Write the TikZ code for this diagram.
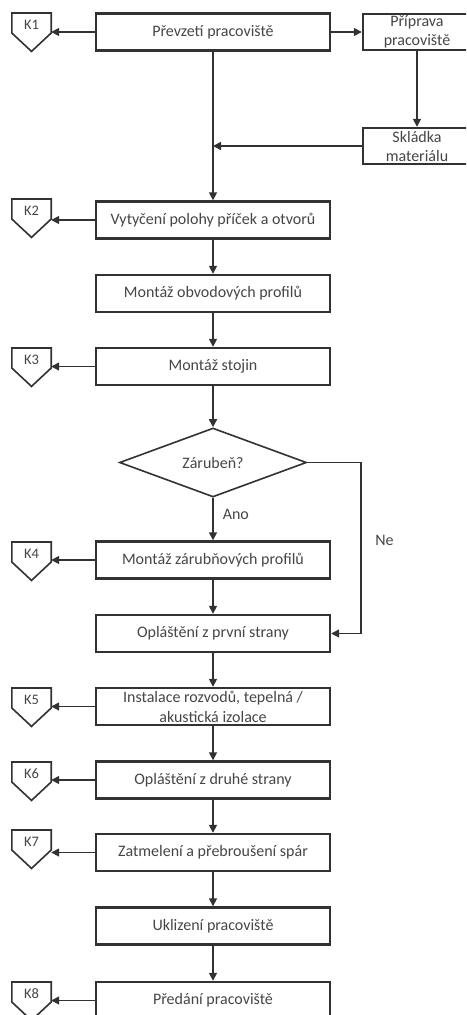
\documentclass[tikz,border=0pt]{standalone}
\usepackage{fontspec}
\setmainfont{Carlito}
\usetikzlibrary{shapes.geometric,arrows.meta,calc}
\definecolor{ln}{RGB}{50,50,50}
\definecolor{txt}{RGB}{70,70,70}
\tikzset{
  base/.style={font=\fontsize{16}{20}\selectfont, text=txt},
  box/.style={base, draw=ln, line width=2.4pt, minimum width=234pt, minimum height=37pt, inner sep=0pt, align=center},
  sidebox/.style={box, minimum width=108pt, minimum height=36pt, font=\fontsize{16}{19}\selectfont},
  dec/.style={base, shape=diamond, draw=ln, line width=1.6pt, minimum width=187pt, minimum height=69pt, inner sep=0pt, shape aspect=2.7},
  kshape/.style={draw=none, minimum width=39pt, minimum height=38pt, inner sep=0pt},
  kline/.style={draw=ln, line width=1.6pt, line join=miter},
  klabel/.style={font=\fontsize{14.5}{16}\selectfont, text=txt, inner sep=0pt},
  arr/.style={draw=ln, line width=1.6pt, -{Triangle[length=8pt,width=8pt]}},
  lbl/.style={base, inner sep=0pt},
}
\newcommand\kpent[3]{%
  \node[kshape, anchor=north] (#1) at (31.5,#2) {};
  \draw[kline] (#1.north west) -- (#1.north east) -- ([yshift=-20pt]#1.north east) -- (#1.south) -- ([yshift=-20pt]#1.north west) -- cycle;
  \node[klabel] (#1-t) at ([yshift=-12pt]#1.north) {#3};
}
\begin{document}
\begin{tikzpicture}[x=1pt,y=-1pt]
\useasboundingbox (0,0) rectangle (466,1015);
\path[clip] (0,0) rectangle (466,1015);
\fill[white] (0,0) rectangle (466,1015);

\node[box] (b1) at (213,32) {Převzetí pracoviště};
\node[sidebox] (pr) at (417,32) {Příprava\\pracoviště};
\node[sidebox] (sk) at (417,146) {Skládka\\materiálu};
\node[box] (b2) at (213,220) {Vytyčení polohy příček a otvorů};
\node[box] (b3) at (213,293.5) {Montáž obvodových profilů};
\node[box] (b4) at (213,366.5) {Montáž stojin};
\node[dec] (d) at (213,462.5) {Zárubeň?};
\node[box] (b5) at (213,560) {Montáž zárubňových profilů};
\node[box] (b6) at (213,633.5) {Opláštění z první strany};
\node[box] (b7) at (213,706.5) {Instalace rozvodů, tepelná /\\akustická izolace};
\node[box] (b8) at (213,780) {Opláštění z druhé strany};
\node[box] (b9) at (213,852.5) {Zatmelení a přebroušení spár};
\node[box] (b10) at (213,926) {Uklizení pracoviště};
\node[box] (b11) at (213,1000.5) {Předání pracoviště};

\kpent{k1}{13}{K1}
\kpent{k2}{199}{K2}
\kpent{k3}{348}{K3}
\kpent{k4}{542}{K4}
\kpent{k5}{688}{K5}
\kpent{k6}{762}{K6}
\kpent{k7}{830}{K7}
\kpent{k8}{982}{K8}

% K arrows
\draw[arr] (b1.west) -- (b1.west -| k1.east);
\draw[arr] (b2.west) -- (b2.west -| k2.east);
\draw[arr] (b4.west) -- (b4.west -| k3.east);
\draw[arr] (b5.west) -- (b5.west -| k4.east);
\draw[arr] (b7.west) -- (b7.west -| k5.east);
\draw[arr] (b8.west) -- (b8.west -| k6.east);
\draw[arr] (b9.west) -- (b9.west -| k7.east);
\draw[arr] (b11.west) -- (b11.west -| k8.east);

% side branch
\draw[arr] (b1.east) -- (pr.west);
\draw[arr] (pr.south) -- (sk.north);
\coordinate (m1) at (b1.south |- sk.west);
\draw[arr] (sk.west) -- (m1);

% main flow
\draw[arr] (b1.south) -- (b2.north);
\draw[arr] (b2.south) -- (b3.north);
\draw[arr] (b3.south) -- (b4.north);
\draw[arr] (b4.south) -- (d.north);
\draw[arr] (d.south) -- node[lbl, pos=0.4, right=9pt] (ano) {Ano} (b5.north);
\coordinate (ne) at (361,462.5);
\draw[arr] (d.east) -- (ne) |- (b6.east);
\node[lbl] (nel) at (384.5,540) {Ne};
\draw[arr] (b5.south) -- (b6.north);
\draw[arr] (b6.south) -- (b7.north);
\draw[arr] (b7.south) -- (b8.north);
\draw[arr] (b8.south) -- (b9.north);
\draw[arr] (b9.south) -- (b10.north);
\draw[arr] (b10.south) -- (b11.north);
\end{tikzpicture}
\end{document}
